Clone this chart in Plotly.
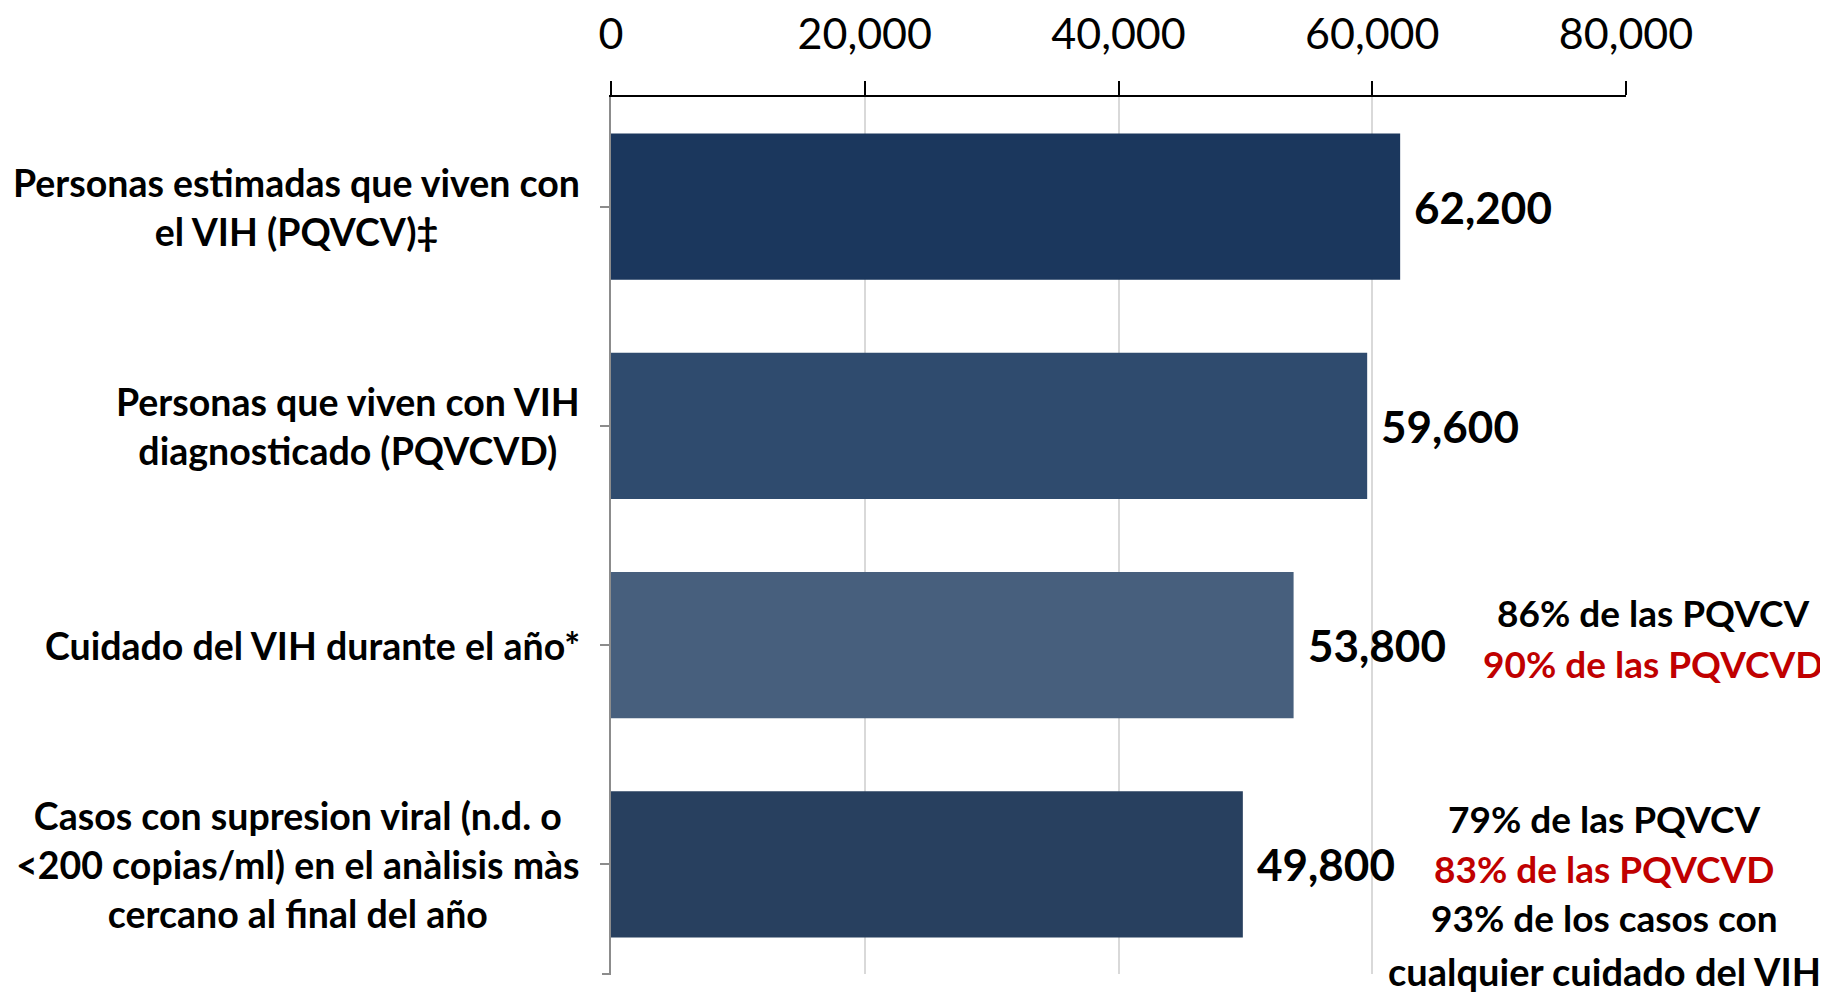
import plotly.graph_objects as go

# ---- data ----
categories = [
    "Personas estimadas que viven con<br>el VIH (PQVCV)‡",
    "Personas que viven con VIH<br>diagnosticado (PQVCVD)",
    "Cuidado del VIH durante el año*",
    "Casos con supresion viral (n.d. o<br>&lt;200 copias/ml) en el anàlisis màs<br>cercano al final del año",
]
values = [62200, 59600, 53800, 49800]
x_ticks = [0, 20000, 40000, 60000, 80000]

# notes next to bars 3 and 4
notes_cat3 = ["86% de las PQVCV", "90% de las PQVCVD"]
notes_cat4 = ["79% de las PQVCV", "83% de las PQVCVD",
              "93% de los casos con", "cualquier cuidado del VIH"]

# ---- style ----
bar_colors = ["#1B375D", "#2F4B6E", "#475F7D", "#28405F"]
note3_colors = ["black", "#C00000"]
note4_colors = ["black", "#C00000", "black", "black"]
FONT = "Lato, 'Open Sans', sans-serif"

OFF = 8  # default page body margin
W, H = 1828, 992
L = 611 - OFF
T = 97 - OFF
plot_w = 1015
plot_h = 877
R = W - L - plot_w
B = H - T - plot_h

fig = go.Figure(go.Bar(
    x=values, y=categories, orientation="h",
    marker=dict(color=bar_colors, line=dict(width=0)),
    hoverinfo="skip",
))

annotations = []
# value labels
for c, v in zip(categories, values):
    annotations.append(dict(
        x=v, y=c, xref="x", yref="y", text=f"<b>{v:,}</b>",
        showarrow=False, xanchor="left", yanchor="middle", xshift=12,
        font=dict(family=FONT, size=44, color="black"),
    ))
# category labels
label_x = (582 - OFF - L) / plot_w
for c in categories:
    annotations.append(dict(
        x=label_x, y=c, xref="paper", yref="y", text=f"<b>{c}</b>",
        showarrow=False, xanchor="right", yanchor="middle", align="center",
        font=dict(family=FONT, size=37.5, color="black"),
    ))

# notes (one annotation per line, centered)
def add_notes(lines, colors, cat, cx_px, shifts, sizes):
    for t, col, s, fs in zip(lines, colors, shifts, sizes):
        annotations.append(dict(
            x=(cx_px - OFF - L) / plot_w, y=cat, xref="paper", yref="y",
            text=f"<b>{t}</b>", showarrow=False, xanchor="center",
            yanchor="middle", yshift=s,
            font=dict(family=FONT, size=fs, color=col),
        ))

add_notes(notes_cat3, note3_colors, categories[2], 1653, [33, -18], [37, 37])
add_notes(notes_cat4, note4_colors, categories[3], 1604, [46, -4, -53, -107],
          [37, 37, 37, 38])

fig.update_layout(
    width=W, height=H,
    margin=dict(l=L, r=R, t=T, b=B, pad=0, autoexpand=False),
    paper_bgcolor="white", plot_bgcolor="white",
    showlegend=False,
    bargap=0.334,
    annotations=annotations,
    shapes=[dict(type="line", xref="paper", yref="paper",
                 x0=-9 / plot_w, x1=0, y0=0, y1=0,
                 line=dict(color="#8C8C8C", width=2))],
    xaxis=dict(
        side="top", range=[0, 80000], tickvals=x_ticks, tickformat=",",
        showline=True, linecolor="black", linewidth=2,
        ticks="outside", ticklen=14, tickcolor="black", tickwidth=1.5,
        showgrid=True, gridcolor="#D9D9D9", gridwidth=1.5,
        zeroline=False, ticklabelstandoff=15, automargin=False,
        tickfont=dict(family=FONT, size=43, color="black"),
        fixedrange=True,
    ),
    yaxis=dict(
        autorange="reversed", showticklabels=False, automargin=False,
        showline=True, linecolor="#8C8C8C", linewidth=2,
        ticks="outside", ticklen=9, tickcolor="#8C8C8C", tickwidth=2,
        showgrid=False, zeroline=False, fixedrange=True,
    ),
)

fig.write_html("out.html")
